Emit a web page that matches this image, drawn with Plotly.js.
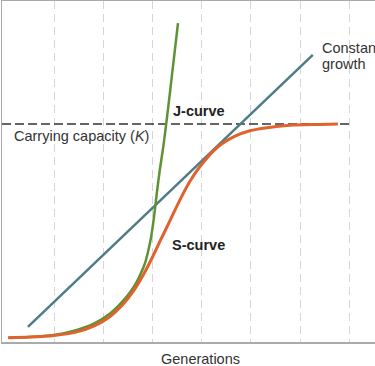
<!DOCTYPE html>
<html>
<head>
<meta charset="utf-8">
<script src="https://cdn.plot.ly/plotly-3.0.1.min.js"></script>
<style>html,body{margin:0;padding:0;background:#fff;}#chart{width:375px;height:366px;}</style>
</head>
<body>
<div id="chart"></div>
<script>
// Generations (x) and population (y); K = 1000
const generationTicks = [1, 2, 3, 4, 5, 6, 7];
const carryingCapacity = 1000;
const kLineX = [-0.057, 7.04];

const sCurveX = [0.07, 0.51, 1.0, 1.43, 1.83, 2.14, 2.38, 2.61, 2.81, 2.99, 3.15, 3.36, 3.56, 3.76, 3.97, 4.31, 4.68, 4.98, 5.33, 5.8, 6.41, 6.77];
const sCurveY = [20, 23, 30, 44, 75, 117, 167, 232, 306, 384, 460, 558, 652, 736, 806, 891, 944, 969, 983, 994, 998, 1000];

const jCurveX = [0.07, 0.51, 1.0, 1.43, 1.83, 2.14, 2.38, 2.55, 2.67, 2.77, 2.85, 2.91, 2.97, 3.03, 3.09, 3.15, 3.22, 3.28, 3.36, 3.44, 3.52];
const jCurveY = [20, 23, 32, 53, 87, 131, 183, 229, 271, 317, 362, 413, 477, 569, 683, 789, 894, 1000, 1151, 1307, 1463];

const constantX = [0.47, 6.26];
const constantY = [69, 1317];

const FONT = 'Liberation Sans, Arial, Helvetica, sans-serif';

const traces = [
  {x: kLineX, y: [carryingCapacity, carryingCapacity], mode: 'lines',
   line: {color: '#333333', width: 1.5, dash: '9px,4px'}, hoverinfo: 'skip'},
  {x: constantX, y: constantY, mode: 'lines',
   line: {color: '#4e7d88', width: 2.5}, hoverinfo: 'skip'},
  {x: jCurveX, y: jCurveY, mode: 'lines',
   line: {color: '#5e9234', width: 2.5, shape: 'spline', smoothing: 0.8}, hoverinfo: 'skip'},
  {x: sCurveX, y: sCurveY, mode: 'lines',
   line: {color: '#e0622c', width: 3, shape: 'spline', smoothing: 0.8}, hoverinfo: 'skip'}
];

const layout = {
  width: 375, height: 366,
  margin: {l: 2, r: 0, t: 1, b: 24, pad: 0},
  paper_bgcolor: '#ffffff', plot_bgcolor: '#ffffff',
  showlegend: false,
  font: {family: FONT, size: 14.5, color: '#333333'},
  xaxis: {
    range: [-0.057, 7.524], tickvals: generationTicks, showticklabels: false, ticks: '',
    showgrid: true, gridcolor: '#d6d6d6', gridwidth: 1, griddash: '8px,5px',
    zeroline: false, showline: true, linecolor: '#aaaaaa', linewidth: 1.5, mirror: true
  },
  yaxis: {
    range: [0, 1564], showticklabels: false, ticks: '', showgrid: false,
    zeroline: false, showline: true, linecolor: '#aaaaaa', linewidth: 1.5
  },
  annotations: [
    {x: 3.95, y: 1060, xref: 'x', yref: 'y', text: '<b>J-curve</b>', showarrow: false,
     font: {family: FONT, size: 14.5, color: '#222222'}},
    {x: 3.94, y: 445, xref: 'x', yref: 'y', text: '<b>S-curve</b>', showarrow: false,
     font: {family: FONT, size: 14.5, color: '#222222'}},
    {x: 0.146, y: 945, xref: 'x', yref: 'y', text: 'Carrying capacity (<i>K</i>)', showarrow: false,
     xanchor: 'left', font: {family: FONT, size: 14.5, color: '#333333'}},
    {x: 6.41, y: 1349, xref: 'x', yref: 'y', text: 'Constant', showarrow: false,
     xanchor: 'left', font: {family: FONT, size: 14.5, color: '#333333'}},
    {x: 6.41, y: 1275, xref: 'x', yref: 'y', text: 'growth', showarrow: false,
     xanchor: 'left', font: {family: FONT, size: 14.5, color: '#333333'}},
    {x: 3.97, y: 0, xref: 'x', yref: 'paper', yanchor: 'middle', yshift: -17,
     text: 'Generations', showarrow: false, font: {family: FONT, size: 14.5, color: '#333333'}}
  ]
};

Plotly.newPlot('chart', traces, layout, {displayModeBar: false, staticPlot: true});
</script>
</body>
</html>
